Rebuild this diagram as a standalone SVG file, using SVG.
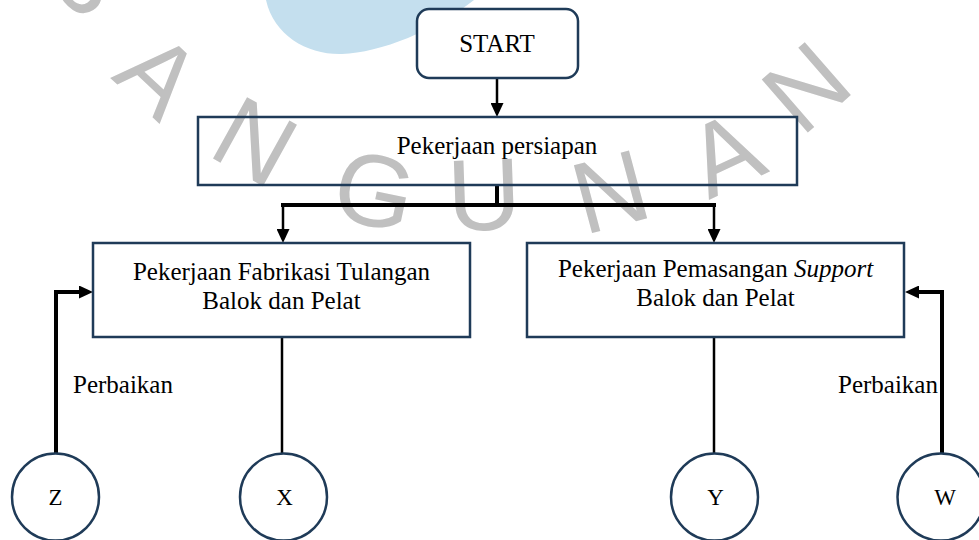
<svg xmlns="http://www.w3.org/2000/svg" width="979" height="540" viewBox="0 0 979 540">
<style>
.box{fill:none;stroke:#1f3b58;stroke-width:2.5}
.circ{fill:#ffffff;stroke:#1f3b58;stroke-width:2.5}
.t{font-size:25px;fill:#000;text-anchor:middle}
.lbl{font-size:25px;fill:#000}
.cl{font-size:23px;fill:#000;text-anchor:middle}
.wm{font-size:102px;fill:#c0c0c0;text-anchor:middle}
.ln{fill:none;stroke:#000;stroke-width:2.5}
.thick{fill:none;stroke:#000;stroke-width:4}
</style>
<defs>
<marker id="ah" markerUnits="userSpaceOnUse" markerWidth="14" markerHeight="13" refX="2" refY="6.5" orient="auto">
<path d="M0,0 L14,6.5 L0,13 z" fill="#000"/>
</marker>
</defs>
<rect width="979" height="540" fill="#ffffff"/>
<g id="watermark" font-family="Liberation Sans, Arial, sans-serif">
<path d="M266,0 C274,36 308,55 342,54 C380,53 436,30 474,0 Z" fill="#c4dfee"/>
<text class="wm" transform="translate(92,-24) rotate(57)" y="37">S</text>
<text class="wm" transform="translate(160,74) rotate(43)" y="37">A</text>
<text class="wm" transform="translate(256,140) rotate(29)" y="37">N</text>
<text class="wm" transform="translate(375,189) rotate(12)" y="37">G</text>
<text class="wm" transform="translate(484,193) rotate(-2)" y="37">U</text>
<text class="wm" transform="translate(610,190) rotate(-15)" y="37">N</text>
<text class="wm" transform="translate(724,152) rotate(-25)" y="37">A</text>
<text class="wm" transform="translate(805,86) rotate(-41)" y="37">N</text>
</g>
<g id="connectors" font-family="Liberation Serif, serif">
<line class="ln" x1="497" y1="78" x2="497" y2="105" marker-end="url(#ah)"/>
<line class="thick" x1="497" y1="185" x2="497" y2="205"/>
<line class="thick" x1="281" y1="205" x2="716" y2="205"/>
<line class="ln" x1="283" y1="205" x2="283" y2="231" marker-end="url(#ah)"/>
<line class="ln" x1="714" y1="205" x2="714" y2="231" marker-end="url(#ah)"/>
<line class="ln" x1="282" y1="337" x2="282" y2="454"/>
<line class="ln" x1="714" y1="337" x2="714" y2="454"/>
<polyline class="thick" points="56,454 56,292 81,292" marker-end="url(#ah)"/>
<polyline class="thick" points="942,454 942,292 917,292" marker-end="url(#ah)"/>
<text class="lbl" x="73" y="393">Perbaikan</text>
<text class="lbl" x="838" y="393">Perbaikan</text>
</g>
<g id="nodes" font-family="Liberation Serif, serif">
<g id="start">
<rect class="box" x="417" y="9" width="161" height="69" rx="12" style="fill:#ffffff"/>
<text class="t" x="497" y="52">START</text>
</g>
<g id="persiapan">
<rect class="box" x="198" y="117" width="599" height="68"/>
<text class="t" x="497" y="154">Pekerjaan persiapan</text>
</g>
<g id="fabrikasi">
<rect class="box" x="93" y="243" width="377" height="94"/>
<text class="t" x="281.5" y="280">Pekerjaan Fabrikasi Tulangan</text>
<text class="t" x="281.5" y="309">Balok dan Pelat</text>
</g>
<g id="pemasangan">
<rect class="box" x="527" y="243" width="377" height="94"/>
<text class="t" x="715.5" y="277">Pekerjaan Pemasangan <tspan font-style="italic">Support</tspan></text>
<text class="t" x="715.5" y="306">Balok dan Pelat</text>
</g>
<g id="node-z">
<circle class="circ" cx="55.5" cy="497" r="43.5"/>
<text class="cl" x="55.5" y="505">Z</text>
</g>
<g id="node-x">
<circle class="circ" cx="283.5" cy="497" r="43.5"/>
<text class="cl" x="284.5" y="505">X</text>
</g>
<g id="node-y">
<circle class="circ" cx="714.5" cy="497" r="43.5"/>
<text class="cl" x="715.5" y="505">Y</text>
</g>
<g id="node-w">
<circle class="circ" cx="941" cy="497" r="43.5"/>
<text class="cl" x="945" y="505">W</text>
</g>
</g>
</svg>
